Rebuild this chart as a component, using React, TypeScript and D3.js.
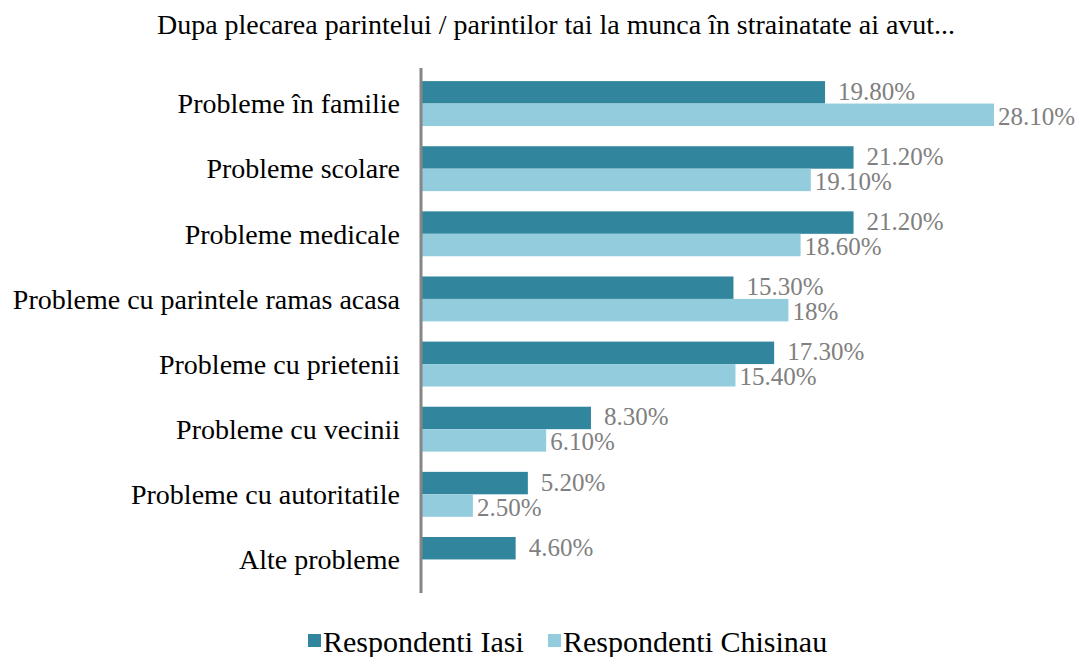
import { useEffect, useRef } from "react";
import * as d3 from "d3";

const categories = [
  "Probleme în familie",
  "Probleme scolare",
  "Probleme medicale",
  "Probleme cu parintele ramas acasa",
  "Probleme cu prietenii",
  "Probleme cu vecinii",
  "Probleme cu autoritatile",
  "Alte probleme",
];
const iasi: (number | null)[] = [19.8, 21.2, 21.2, 15.3, 17.3, 8.3, 5.2, 4.6];
const chisinau: (number | null)[] = [28.1, 19.1, 18.6, 18, 15.4, 6.1, 2.5, null];
const seriesNames = ["Respondenti Iasi", "Respondenti Chisinau"];
const colors = ["#31859C", "#93CDDD"];
const title =
  "Dupa plecarea parintelui / parintilor tai la munca în strainatate ai avut...";

const fmt = (v: number) => (Number.isInteger(v) ? `${v}%` : `${v.toFixed(2)}%`);

export default function App() {
  const ref = useRef<SVGSVGElement | null>(null);

  useEffect(() => {
    if (!ref.current) return;
    const svg = d3.select(ref.current);
    svg.selectAll("*").remove();

    const width = 1078;
    const height = 657;
    const font = "'Liberation Serif', 'Times New Roman', serif";
    const left = 422;

    svg.attr("width", width).attr("height", height);

    const x = d3.scaleLinear().domain([0, 28.1]).range([left, 994]);
    const y0 = d3.scaleBand<string>().domain(categories).range([71, 592]);
    const y1 = d3
      .scaleBand<string>()
      .domain(seriesNames)
      .range([0, y0.bandwidth()])
      .paddingOuter(0.45);

    // title
    svg
      .append("text")
      .attr("x", 157)
      .attr("y", 34)
      .attr("textLength", 798)
      .attr("lengthAdjust", "spacingAndGlyphs")
      .attr("font-family", font)
      .attr("font-size", 27)
      .attr("fill", "#000")
      .text(title);

    const g = svg.append("g");
    const series = [iasi, chisinau];

    series.forEach((vals, si) => {
      vals.forEach((v, i) => {
        if (v == null) return;
        const yy = (y0(categories[i]) ?? 0) + (y1(seriesNames[si]) ?? 0);
        g.append("rect")
          .attr("x", x(0))
          .attr("y", yy)
          .attr("width", x(v) - x(0))
          .attr("height", y1.bandwidth())
          .attr("fill", colors[si]);
        g.append("text")
          .attr("x", x(v) + (si === 0 ? 13 : 4))
          .attr("y", yy + y1.bandwidth() / 2)
          .attr("dy", si === 0 ? "0.3em" : "0.4em")
          .attr("font-family", font)
          .attr("font-size", 25)
          .attr("fill", "#808080")
          .text(fmt(v));
      });
    });

    // category labels
    categories.forEach((c) => {
      svg
        .append("text")
        .attr("x", 400)
        .attr("y", (y0(c) ?? 0) + y0.bandwidth() / 2)
        .attr("dy", "0.35em")
        .attr("text-anchor", "end")
        .attr("font-family", font)
        .attr("font-size", 28)
        .attr("fill", "#000")
        .text(c);
    });

    // axis line
    svg
      .append("line")
      .attr("x1", 421)
      .attr("x2", 421)
      .attr("y1", 68)
      .attr("y2", 593)
      .attr("stroke", "#868686")
      .attr("stroke-width", 3);

    // legend
    const legendX = [308, 548];
    seriesNames.forEach((name, si) => {
      svg
        .append("rect")
        .attr("x", legendX[si])
        .attr("y", 634)
        .attr("width", 13)
        .attr("height", 13)
        .attr("fill", colors[si]);
      svg
        .append("text")
        .attr("x", legendX[si] + 15)
        .attr("y", 652)
        .attr("font-family", font)
        .attr("font-size", 30)
        .attr("fill", "#000")
        .text(name);
    });
  }, []);

  return (
    <div style={{ position: "absolute", left: 0, top: 0 }}>
      <svg ref={ref} />
    </div>
  );
}
